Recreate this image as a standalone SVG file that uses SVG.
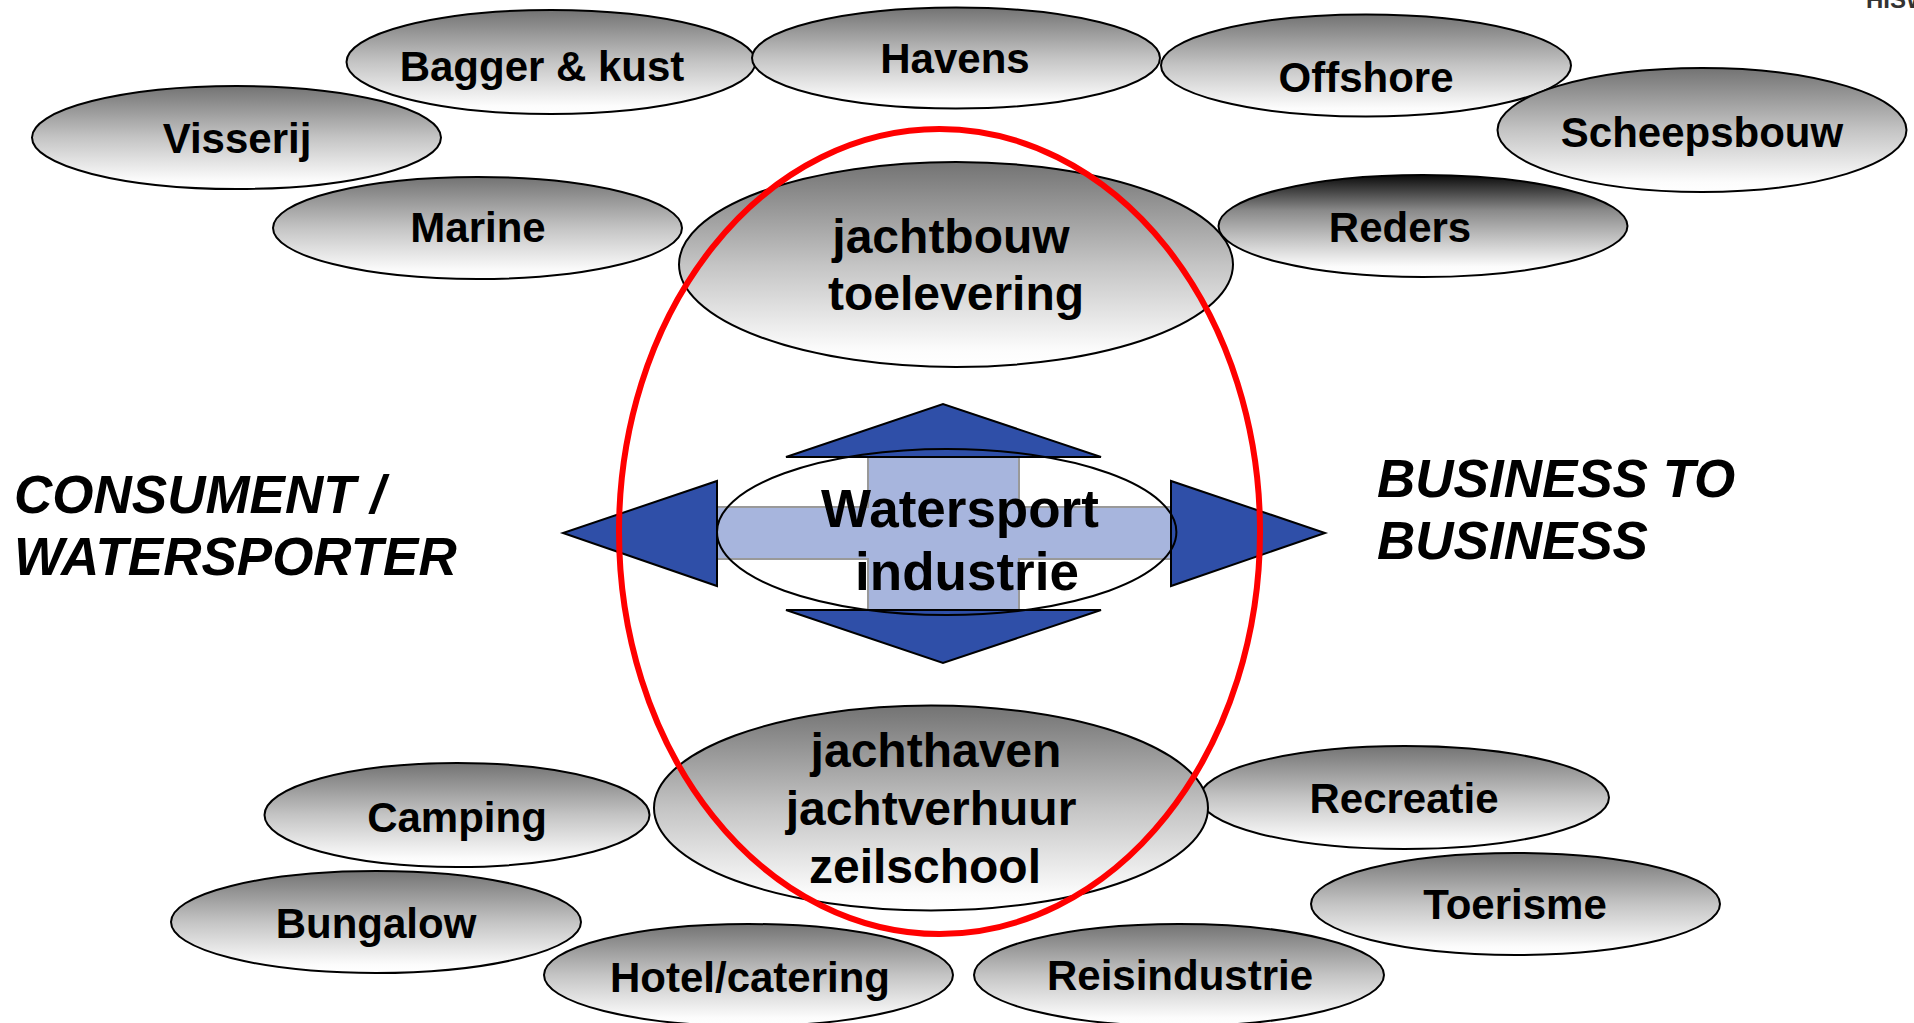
<svg xmlns="http://www.w3.org/2000/svg" width="1914" height="1023" viewBox="0 0 1914 1023">
<defs>
<linearGradient id="g" x1="0" y1="0" x2="0" y2="1">
<stop offset="0" stop-color="#737373"/>
<stop offset="0.5" stop-color="#c4c4c4"/>
<stop offset="0.92" stop-color="#fcfcfc"/>
<stop offset="1" stop-color="#ffffff"/>
</linearGradient>
<linearGradient id="gd" x1="0" y1="0" x2="0" y2="1">
<stop offset="0" stop-color="#0a0a0a"/>
<stop offset="0.35" stop-color="#8a8a8a"/>
<stop offset="0.9" stop-color="#fcfcfc"/>
<stop offset="1" stop-color="#ffffff"/>
</linearGradient>
<style>
.n{fill:url(#g);stroke:#000;stroke-width:2}
.nd{fill:url(#gd);stroke:#000;stroke-width:2}
.t{font-family:"Liberation Sans",Arial,sans-serif;font-weight:bold;font-size:42px;fill:#000;text-anchor:middle}
.tb{font-size:48px}
.side{font-family:"Liberation Sans",Arial,sans-serif;font-weight:bold;font-style:italic;font-size:53px;fill:#000}
.head{fill:#2f4fa8;stroke:#000;stroke-width:2;stroke-linejoin:miter}
</style>
</defs>
<rect width="1914" height="1023" fill="#fff"/>
<text x="1866" y="8" style="font-family:'Liberation Sans',Arial,sans-serif;font-weight:bold;font-size:24px;fill:#333">HISWA</text>

<g id="visserij"><ellipse class="n" cx="236.5" cy="137.5" rx="204.5" ry="51.5"/><text class="t" x="237" y="153">Visserij</text></g>
<g id="bagger"><ellipse class="n" cx="551" cy="62" rx="204.5" ry="52"/><text class="t" x="542" y="81">Bagger &amp; kust</text></g>
<g id="havens"><ellipse class="n" cx="956" cy="58" rx="204" ry="50.5"/><text class="t" x="955" y="73">Havens</text></g>
<g id="offshore"><ellipse class="n" cx="1366" cy="65.5" rx="205" ry="51"/><text class="t" x="1366" y="92">Offshore</text></g>
<g id="scheepsbouw"><ellipse class="n" cx="1702" cy="130" rx="204.5" ry="62"/><text class="t" x="1702" y="147">Scheepsbouw</text></g>
<g id="marine"><ellipse class="n" cx="477.5" cy="228" rx="204.5" ry="51"/><text class="t" x="478" y="242">Marine</text></g>
<g id="reders"><ellipse class="nd" cx="1423" cy="226" rx="204.5" ry="51"/><text class="t" x="1400" y="242">Reders</text></g>
<g id="jachtbouw"><ellipse class="n" cx="956" cy="264.5" rx="277" ry="102.5"/><text class="t tb" x="951" y="253">jachtbouw</text><text class="t tb" x="956" y="310">toelevering</text></g>

<g id="camping"><ellipse class="n" cx="457" cy="815" rx="192.5" ry="52"/><text class="t" x="457" y="832">Camping</text></g>
<g id="bungalow"><ellipse class="n" cx="376" cy="922" rx="205" ry="51"/><text class="t" x="376" y="938">Bungalow</text></g>
<g id="hotel"><ellipse class="n" cx="748.5" cy="975" rx="204.5" ry="51"/><text class="t" x="750" y="992">Hotel/catering</text></g>
<g id="reisindustrie"><ellipse class="n" cx="1179" cy="975" rx="205" ry="51"/><text class="t" x="1180" y="990">Reisindustrie</text></g>
<g id="recreatie"><ellipse class="n" cx="1404.5" cy="797.5" rx="204.5" ry="51.5"/><text class="t" x="1404" y="813">Recreatie</text></g>
<g id="toerisme"><ellipse class="n" cx="1515.5" cy="904" rx="204.5" ry="51"/><text class="t" x="1515" y="919">Toerisme</text></g>
<g id="jachthaven"><ellipse class="n" cx="931" cy="808" rx="277" ry="102.5"/><text class="t tb" x="936" y="767">jachthaven</text><text class="t tb" x="931" y="825">jachtverhuur</text><text class="t tb" x="925" y="883">zeilschool</text></g>

<g id="connectors">
<polygon points="868,457 1019,457 1019,507 1171,507 1171,559 1019,559 1019,610 868,610 868,559 717,559 717,507 868,507" fill="#a7b5dd" stroke="#999" stroke-width="2"/>
<polygon class="head" points="717,481 717,586 563,533"/>
<polygon class="head" points="1171,481 1171,586 1325,533"/>
<polygon class="head" points="786,457 1101,457 943,404"/>
<polygon class="head" points="786,610 1101,610 943,663"/>
</g>
<g id="watersport">
<ellipse cx="946.7" cy="532" rx="229.7" ry="83" fill="none" stroke="#000" stroke-width="2"/>
<text class="t" style="font-size:53px" x="960" y="527">Watersport</text>
<text class="t" style="font-size:53px" x="967" y="590">industrie</text>
</g>

<g id="consument"><text class="side" x="14" y="513">CONSUMENT /</text><text class="side" x="14" y="575">WATERSPORTER</text></g>
<g id="b2b"><text class="side" x="1377" y="497">BUSINESS TO</text><text class="side" x="1377" y="559">BUSINESS</text></g>

<g id="focus"><ellipse cx="939.5" cy="531.5" rx="320.5" ry="402.5" fill="none" stroke="#ff0000" stroke-width="6"/></g>
</svg>
